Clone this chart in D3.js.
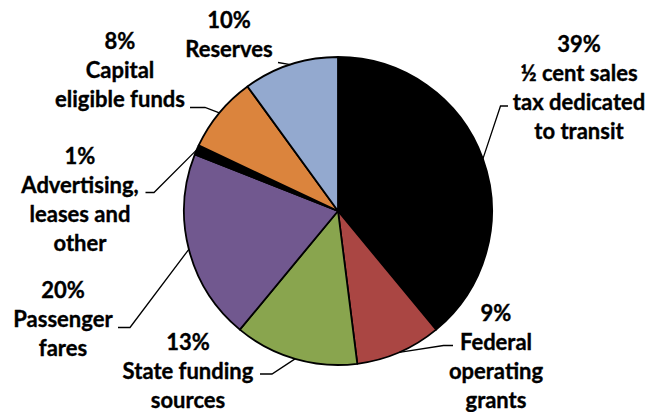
<!DOCTYPE html>
<html>
<head>
<meta charset="utf-8">
<script src="https://cdn.jsdelivr.net/npm/d3@7"></script>
<style>
  body { margin: 0; background: #fff; }
  text { font-family: Lato, "Open Sans", sans-serif; font-weight: bold; fill: #000; stroke: #000; stroke-width: 0.35px; }
</style>
</head>
<body>
<svg id="chart" width="649" height="412"></svg>
<script>
// data, clockwise from 12 o'clock
const categories = [
  ['½ cent sales', 'tax dedicated', 'to transit'],
  ['Federal', 'operating', 'grants'],
  ['State funding', 'sources'],
  ['Passenger', 'fares'],
  ['Advertising,', 'leases and', 'other'],
  ['Capital', 'eligible funds'],
  ['Reserves']
]
const shares = [39, 9, 13, 20, 1, 8, 10]
const colors = ['#000000', '#AA4643', '#89A54E', '#71588F', '#000000', '#DB843D', '#93A9CF']

// label layout: centre x, first baseline y, leader start and elbow
const labelLayout = [
  { x: 579, y: 52, lead: [[508, 106], [500.5, 106]] },
  { x: 496, y: 321, lead: [[453, 345.5], [443.5, 345.5]] },
  { x: 188, y: 350, lead: [[260, 374], [272, 374]] },
  { x: 63, y: 298, lead: [[118, 327.5], [130, 327.5]] },
  { x: 80, y: 164, lead: [[145.5, 192.5], [154, 192.5]] },
  { x: 120, y: 49, lead: [[190, 107.5], [205, 107.5]] },
  { x: 229, y: 28, lead: [[278, 62.5]] }
]

const cx = 338, cy = 211, radius = 154, lineH = 29

const svg = d3.select('#chart')
const g = svg.append('g').attr('transform', `translate(${cx},${cy})`)

const pie = d3.pie().sort(null).value(d => d)
const arcs = pie(shares)
const arc = d3.arc().innerRadius(0).outerRadius(radius)

g.selectAll('path.slice')
  .data(arcs)
  .join('path')
  .attr('class', 'slice')
  .attr('d', arc)
  .attr('fill', (d, i) => colors[i])
  .attr('stroke', '#000')
  .attr('stroke-width', 1.8)
  .attr('stroke-linejoin', 'round')

// leader lines from label to the middle of each slice edge
const edge = d => {
  const a = (d.startAngle + d.endAngle) / 2
  return [cx + radius * Math.sin(a), cy - radius * Math.cos(a)]
}
svg.selectAll('path.leader')
  .data(arcs)
  .join('path')
  .attr('class', 'leader')
  .attr('d', (d, i) => d3.line()(labelLayout[i].lead.concat([edge(d)])))
  .attr('fill', 'none')
  .attr('stroke', '#000')
  .attr('stroke-width', 1.3)

const labels = svg.selectAll('text.lbl')
  .data(arcs)
  .join('text')
  .attr('class', 'lbl')
  .attr('text-anchor', 'middle')
  .attr('font-size', 22)

labels.each(function (d, i) {
  const lines = [d3.format('.0%')(shares[i] / 100)].concat(categories[i])
  d3.select(this).selectAll('tspan')
    .data(lines)
    .join('tspan')
    .attr('x', labelLayout[i].x)
    .attr('y', (t, j) => labelLayout[i].y + j * lineH)
    .text(t => t)
})
</script>
</body>
</html>
